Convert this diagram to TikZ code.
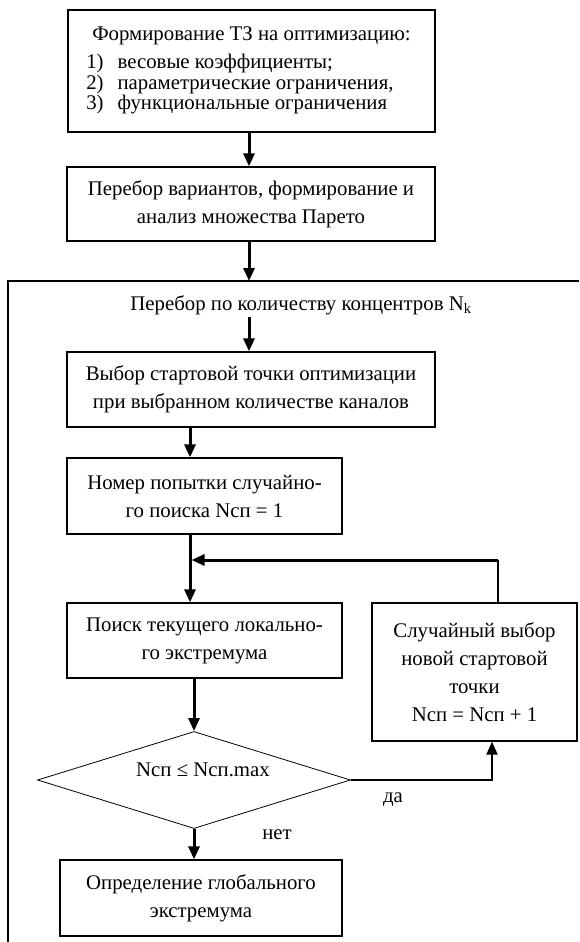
\documentclass[tikz,border=0pt]{standalone}
\usepackage{fontspec}
\setmainfont{Liberation Serif}
\usepackage{tikz}
\usetikzlibrary{arrows.meta,positioning,shapes.geometric,calc}

\begin{document}
\begin{tikzpicture}[x=1pt,y=-1pt,every node/.style={font=\fontsize{20.8}{28}\selectfont,align=center,inner sep=2pt},
box/.style={draw,line width=1.3pt},
flow/.style={line width=3pt,-{Triangle[length=13pt,width=11pt]}}]
\useasboundingbox (0,0) rectangle (579,942);
% outer loop frame
\draw[line width=1.5pt] (579,281) -| (8,942);
\coordinate (top) at (249,281);
\coordinate (join) at (190,560);
\coordinate (back) at (498,560);
\coordinate (turn) at (492,780);
\node[box,minimum width=367,minimum height=122] (tz) at (251.5,71) {\renewcommand{\arraystretch}{0.68}\begin{tabular}{@{}l@{\hspace{14pt}}l@{}}\multicolumn{2}{c}{Формирование ТЗ на оптимизацию:}\\[8pt] 1) & весовые коэффициенты;\\ 2) & параметрические ограничения,\\ 3) & функциональные ограничения\end{tabular}};
\node[box,minimum width=368,minimum height=74] (pareto) at (251,204) {Перебор вариантов, формирование и\\анализ множества Парето};
\node (title) at (301,305) {Перебор по количеству концентров N\textsubscript{k}};
\node[box,minimum width=368,minimum height=75] (start) at (251,389.5) {Выбор стартовой точки оптимизации\\при выбранном количестве каналов};
\node[box,minimum width=275,minimum height=76] (try) at (204.5,496) {Номер попытки случайно-\\го поиска Nсп = 1};
\node[box,minimum width=275,minimum height=75] (search) at (204.5,640.5) {Поиск текущего локально-\\го экстремума};
\node[box,minimum width=205,minimum height=138] (random) at (474.5,672) {Случайный выбор\\новой стартовой\\точки\\Nсп = Nсп + 1};
\node[draw,diamond,aspect=3.2,minimum width=313,minimum height=97,inner sep=0pt,line width=0.8pt] (check) at (194,780) {\hspace{18pt}Nсп ≤ Nсп.max\\[-8pt]\mbox{}};
\node[box,minimum width=282,minimum height=76] (global) at (201,898) {Определение глобального\\экстремума};
\node (yes) at (393,800) {да};
\node (no) at (277,835) {нет};
% connectors
\draw[flow] (tz.south -| top) -- (pareto.north -| top);\draw[flow] (pareto.south -| top) -- (top);
\draw[flow] (title.south -| top) -- (start.north -| top);
\draw[flow] (start.south -| join) -- (try.north -| join);
\draw[line width=3pt] (try.south -| join) -- (join);\draw[flow] (join) -- (search.north -| join);
\draw[line width=1.2pt] (random.north -| back) -- (back);\draw[flow,shorten >=1.5pt] (back) -- (join);
\draw[flow] (search.south -| check.north) -- (check.north);
\draw[flow] (check.south) -- (global.north -| check.south);
\draw[flow,line width=2pt] (check.east) -| (random.south -| turn);
\end{tikzpicture}
\end{document}
